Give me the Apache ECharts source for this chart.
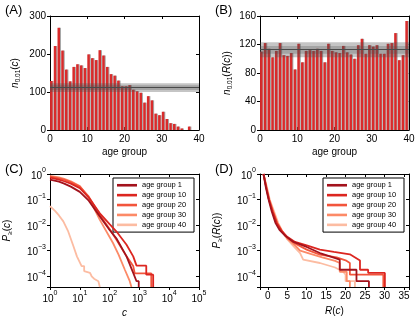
<!DOCTYPE html>
<html>
<head>
<meta charset="utf-8">
<script src="https://cdn.jsdelivr.net/npm/echarts@6/dist/echarts.min.js"></script>
<style>
  html, body { margin: 0; padding: 0; background: #fff; }
  #chart { width: 420px; height: 324px; }
</style>
</head>
<body>
<div id="chart"></div>
<script>
// age groups (x of panels A and B)
const ageGroups = [0,1,2,3,4,5,6,7,8,9,10,11,12,13,14,15,16,17,18,19,20,21,22,23,24,25,26,27,28,29,30,31,32,33,34,35,36,37,38,39];
// n_0.01(c) per age group
const nA = [129,221,269,209,159,128,166,173,170,163,199,189,184,210,196,166,147,143,130,115,115,118,106,102,98,72,89,78,43,39,48,29,18,16,9,4,0,9,0,0];
// n_0.01(R(c)) per age group
const nB = [110,122,114,102,111,122,105,104,108,85,121,95,111,112,111,114,111,95,121,111,109,108,118,109,106,100,119,128,107,119,117,119,107,107,121,122,136,98,105,153];
// null-model bands: outer, inner, mean
const bandA = [100, 123];
const coreA = [105, 118];
const meanA = 112;
const bandB = [102, 123];
const coreB = [107, 118];
const meanB = 113;

const groupNames = ['age group 1', 'age group 10', 'age group 20', 'age group 30', 'age group 40'];

// panel C: P>=(c), [c, P]
const cAge1 = [[1,0.6],[2,0.5],[3,0.42],[5,0.32],[10,0.2],[20,0.09],[47,0.022],[100,0.0065],[170,0.003],[370,6e-4],[620,1.35e-4],[800,6.4e-5],[950,6.4e-5],[950,3.8e-5]];
const cAge10 = [[1,0.72],[2,0.6],[3,0.52],[5,0.42],[10,0.28],[20,0.12],[47,0.029],[100,0.011],[170,0.0056],[370,0.0017],[620,6e-4],[800,2.6e-4],[1700,2.6e-4],[1700,1.15e-4],[2900,1.15e-4],[2900,3.8e-5]];
const cAge20 = [[1,0.78],[2,0.68],[3,0.6],[5,0.48],[10,0.32],[20,0.13],[47,0.025],[100,0.007],[170,0.0027],[370,6e-4],[620,2.5e-4],[700,1.3e-4],[2500,1.3e-4],[2500,3.8e-5]];
const cAge30 = [[1,0.85],[2,0.74],[3,0.64],[5,0.52],[10,0.34],[20,0.12],[47,0.016],[130,0.002],[200,7e-4],[325,1.8e-4],[475,6.4e-5],[540,3.8e-5]];
const cAge40 = [[1,0.055],[1.5,0.035],[2,0.024],[2.8,0.014],[4,0.006],[6,0.0016],[8,6e-4],[10,3.5e-4],[11.5,2.5e-4],[14,2.5e-4],[14,1.6e-4],[22,1.35e-4],[25,1e-4],[30,8e-5],[42,6.4e-5],[47,3.8e-5]];

// panel D: P>=(R(c)), [R, P]
const dAge1 = [[-1.1,1],[-0.5,0.3],[0.2,0.1],[1,0.035],[2,0.012],[3,0.0065],[4.5,0.0038],[6.6,0.0022],[10,0.0014],[13.4,8.1e-4],[16,6e-4],[18.5,4.5e-4],[18.5,1.8e-4],[22.8,1.8e-4],[22.8,6.4e-5],[26,6.4e-5],[26,3.8e-5]];
const dAge10 = [[-1.1,1],[-0.4,0.3],[0.3,0.1],[1.2,0.035],[2.3,0.012],[3.5,0.006],[5,0.0035],[7,0.0022],[10,0.0016],[13.4,0.0011],[17,9e-4],[21.1,7.2e-4],[23.7,4.1e-4],[23.7,1.8e-4],[25.8,1.8e-4],[25.8,1.35e-4],[30.1,1.35e-4],[30.1,3.8e-5]];
const dAge20 = [[-1.1,1],[-0.4,0.3],[0.3,0.1],[1.3,0.035],[2.4,0.012],[3.6,0.006],[5,0.0033],[7,0.0019],[10,0.0011],[13.4,7e-4],[17.7,5.5e-4],[20,4.2e-4],[21.1,3.3e-4],[21.1,1.15e-4],[29.7,1.15e-4],[29.7,3.8e-5]];
const dAge30 = [[-1.1,1],[-0.3,0.3],[0.4,0.1],[1.4,0.035],[2.5,0.012],[3.5,0.0065],[5,0.003],[7.2,1.5e-3],[8.3,1.0e-3],[11,7.5e-4],[14,5.5e-4],[17.3,4.0e-4],[18.5,3.3e-4],[18.5,1.5e-4],[20.3,1.5e-4],[20.3,6.4e-5],[21.1,6.4e-5],[21.1,3.8e-5]];
const dAge40 = [[-1.1,1],[-0.2,0.3],[0.5,0.1],[1.6,0.035],[2.7,0.012],[3.8,0.0055],[5,0.0028],[6.6,1.5e-3],[8.3,8.1e-4],[9.1,4.5e-4],[13.4,3.3e-4],[17.3,2.2e-4],[19.4,1.5e-4],[20,1.15e-4],[20,6.4e-5],[22.4,6.4e-5],[22.4,3.8e-5]];

const cCurves = [cAge1, cAge10, cAge20, cAge30, cAge40];
const dCurves = [dAge1, dAge10, dAge20, dAge30, dAge40];
const groupColors = ['#a3121c', '#dc2620', '#f2553c', '#fc8a67', '#fcbca2'];

const font = 'Liberation Sans, Arial, sans-serif';
const chart = echarts.init(document.getElementById('chart'));

const grids = [
  { left: 50, top: 16, width: 149, height: 114 },
  { left: 260, top: 16, width: 149, height: 114 },
  { left: 50, top: 174, width: 149, height: 113 },
  { left: 260, top: 174, width: 149, height: 113 }
];

const richText = {
  i: { fontSize: 10, fontStyle: 'italic', fontFamily: font, color: '#000', lineHeight: 13 },
  r: { fontSize: 10, fontFamily: font, color: '#000', lineHeight: 13 },
  s: { fontSize: 6.5, fontFamily: font, color: '#000', lineHeight: 7, verticalAlign: 'bottom', padding: [4, 0, 0, 0] },
  b: { fontSize: 10, fontFamily: font, color: '#000', lineHeight: 14, verticalAlign: 'bottom' },
  p: { fontSize: 7, fontFamily: font, color: '#000', lineHeight: 8, verticalAlign: 'top' }
};

function powLabel(v) {
  const e = Math.log10(v);
  const r = Math.round(e);
  if (Math.abs(e - r) > 1e-6) return '';
  return '{b|10}{p|' + (r < 0 ? '\u2212' + (-r) : r) + '}';
}

function baseAxis(extra) {
  return Object.assign({
    axisLine: { show: true, onZero: false, lineStyle: { color: '#000', width: 1 } },
    axisTick: { show: true, length: 3, lineStyle: { color: '#000' } },
    splitLine: { show: false },
    axisLabel: { color: '#000', fontSize: 10, fontFamily: font }
  }, extra);
}

function mirror(ax, pos) {
  // box side with inward ticks only
  return Object.assign({}, ax, {
    position: pos,
    name: '',
    axisLabel: { show: false },
    axisTick: { show: true, inside: true, length: 3, lineStyle: { color: '#000' } }
  });
}

const xBottom = [
  baseAxis({ type: 'value', gridIndex: 0, min: 0, max: 40, interval: 10, axisTick: { show: true, inside: true, length: 3, lineStyle: { color: '#000' } },
    axisLabel: { color: '#000', fontSize: 10, fontFamily: font, margin: 4 },
    name: 'age group', nameLocation: 'middle', nameGap: 17, nameTextStyle: { color: '#000', fontSize: 10, fontFamily: font } }),
  baseAxis({ type: 'value', gridIndex: 1, min: 0, max: 40, interval: 10, axisTick: { show: true, inside: true, length: 3, lineStyle: { color: '#000' } },
    axisLabel: { color: '#000', fontSize: 10, fontFamily: font, margin: 4 },
    name: 'age group', nameLocation: 'middle', nameGap: 17, nameTextStyle: { color: '#000', fontSize: 10, fontFamily: font } }),
  baseAxis({ type: 'log', logBase: 10, gridIndex: 2, min: 1, max: 1e5,
    axisLabel: { color: '#000', fontFamily: font, margin: 3, formatter: powLabel, rich: richText },
    name: '{i|c}', nameLocation: 'middle', nameGap: 20, nameTextStyle: { rich: richText } }),
  baseAxis({ type: 'value', gridIndex: 3, min: -2, max: 36.3, splitNumber: 8,
    axisLabel: { color: '#000', fontSize: 10, fontFamily: font, margin: 4,
      formatter: function (v) { return Math.abs(v % 5) < 1e-9 ? String(v) : ''; } },
    name: '{i|R}{r|(}{i|c}{r|)}', nameLocation: 'middle', nameGap: 18, nameTextStyle: { rich: richText } })
];

const yLeft = [
  baseAxis({ type: 'value', gridIndex: 0, min: 0, max: 300, interval: 100,
    axisLabel: { color: '#000', fontSize: 10, fontFamily: font, margin: 4 },
    name: '{i|n}{s|0.01}{r|(}{i|c}{r|)}', nameLocation: 'middle', nameRotate: 90, nameGap: 28, nameTextStyle: { rich: richText } }),
  baseAxis({ type: 'value', gridIndex: 1, min: 0, max: 160, interval: 40,
    axisLabel: { color: '#000', fontSize: 10, fontFamily: font, margin: 4 },
    name: '{i|n}{s|0.01}{r|(}{i|R}{r|(}{i|c}{r|))}', nameLocation: 'middle', nameRotate: 90, nameGap: 26, nameTextStyle: { rich: richText } }),
  baseAxis({ type: 'log', logBase: 10, gridIndex: 2, min: 3.8e-5, max: 1,
    axisLabel: { color: '#000', fontFamily: font, margin: 4, formatter: powLabel, rich: richText },
    name: '{i|P}{s|\u2265}{r|(}{i|c}{r|)}', nameLocation: 'middle', nameRotate: 90, nameGap: 36, nameTextStyle: { rich: richText } }),
  baseAxis({ type: 'log', logBase: 10, gridIndex: 3, min: 3.8e-5, max: 1,
    axisLabel: { color: '#000', fontFamily: font, margin: 4, formatter: powLabel, rich: richText },
    name: '{i|P}{s|\u2265}{r|(}{i|R}{r|(}{i|c}{r|))}', nameLocation: 'middle', nameRotate: 90, nameGap: 36, nameTextStyle: { rich: richText } })
];

const xAxes = xBottom.concat(xBottom.map(a => mirror(a, 'top')));
const yAxes = yLeft.concat(yLeft.map(a => mirror(a, 'right')));

function barSeries(values, idx, band, core, mean) {
  return {
    type: 'bar',
    xAxisIndex: idx,
    yAxisIndex: idx,
    barWidth: 2.5,
    // bars start at the group value (left aligned like the original)
    data: ageGroups.map((g, i) => [g + 0.35, values[i]]),
    itemStyle: {
      color: '#d92b2b',
      shadowColor: '#a8a8a8',
      shadowOffsetX: 1,
      shadowBlur: 0
    },
    markArea: {
      silent: true,
      z: 3,
      itemStyle: { color: 'rgba(80,80,80,0.33)' },
      data: [
        [{ yAxis: band[0] }, { yAxis: band[1] }],
        [{ yAxis: core[0], itemStyle: { color: 'rgba(80,80,80,0.28)' } }, { yAxis: core[1] }]
      ]
    },
    markLine: {
      silent: true,
      symbol: 'none',
      label: { show: false },
      lineStyle: { color: '#4a4a4a', width: 1, type: 'solid' },
      data: [{ yAxis: mean }]
    }
  };
}

const series = [
  barSeries(nA, 0, bandA, coreA, meanA),
  barSeries(nB, 1, bandB, coreB, meanB)
];

groupNames.forEach((name, i) => {
  series.push({
    name: name, type: 'line', xAxisIndex: 2, yAxisIndex: 2,
    data: cCurves[i], symbol: 'none', z: 10 - i,
    lineStyle: { color: groupColors[i], width: 1.8 }, itemStyle: { color: groupColors[i] }
  });
});
groupNames.forEach((name, i) => {
  series.push({
    name: name, type: 'line', xAxisIndex: 3, yAxisIndex: 3,
    data: dCurves[i], symbol: 'none', z: 10 - i,
    lineStyle: { color: groupColors[i], width: 1.8 }, itemStyle: { color: groupColors[i] }
  });
});

function legendAt(left) {
  return {
    left: left, top: 178, orient: 'vertical',
    data: groupNames,
    icon: 'rect', itemWidth: 20, itemHeight: 2.6, itemGap: 1.4,
    padding: [3, 6, 3, 4],
    backgroundColor: '#fff', borderColor: '#000', borderWidth: 1,
    textStyle: { color: '#000', fontSize: 7.5, fontFamily: font, lineHeight: 8.5, width: 46 },
    selectedMode: false
  };
}

const titleStyle = { color: '#000', fontSize: 13, fontWeight: 'normal', fontFamily: font };

const option = {
  animation: false,
  backgroundColor: '#fff',
  title: [
    { text: '(A)', left: 5, top: 4, padding: 0, textStyle: titleStyle },
    { text: '(B)', left: 215, top: 4, padding: 0, textStyle: titleStyle },
    { text: '(C)', left: 5, top: 163, padding: 0, textStyle: titleStyle },
    { text: '(D)', left: 215, top: 163, padding: 0, textStyle: titleStyle }
  ],
  grid: grids,
  xAxis: xAxes,
  yAxis: yAxes,
  legend: [legendAt(113), legendAt(323)],
  series: series
};

chart.setOption(option);
</script>
</body>
</html>
